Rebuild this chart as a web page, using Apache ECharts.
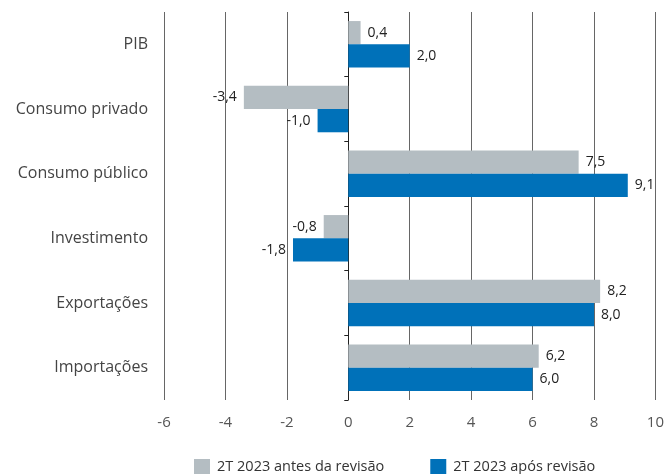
<!DOCTYPE html>
<html><head><meta charset="utf-8">
<script src="https://cdn.jsdelivr.net/npm/echarts@6/dist/echarts.min.js"></script>
<style>html,body{margin:0;padding:0;background:#fff}#c{width:667px;height:474px}</style>
</head><body><div id="c"></div>
<script>
const categories = ['PIB','Consumo privado','Consumo público','Investimento','Exportações','Importações'];
const antes = [0.4, -3.4, 7.5, -0.8, 8.2, 6.2];
const apos = [2.0, -1.0, 9.1, -1.8, 8.0, 6.0];
const seriesNames = ['2T 2023 antes da revisão','2T 2023 após revisão'];
const colors = ['#b4bdc2','#0071b9'];
const FONT = 'Open Sans';

function mk(vals){
  return vals.map(v => ({value:v, label:{position: v<0 ? 'left':'right'}}));
}
const lbl = {show:true, distance:7, fontSize:14, color:'#222', fontFamily:FONT,
  formatter: p => p.value.toFixed(1).replace('.', ',')};

const chart = echarts.init(document.getElementById('c'));
chart.setOption({
  animation:false,
  grid:{left:164, right:9, top:12, bottom:74},
  legend:{left:194, top:459, padding:0, itemWidth:16, itemHeight:16, itemGap:46,
    icon:'rect', textStyle:{fontSize:14.5, color:'#333', fontFamily:FONT, padding:[0,0,0,2]},
    data:seriesNames},
  xAxis:{type:'value', min:-6, max:10, interval:2,
    axisLine:{show:false}, axisTick:{show:false},
    axisLabel:{fontSize:15, color:'#555', fontFamily:FONT, margin:15},
    splitLine:{show:true, lineStyle:{color:'#666', width:1}}},
  yAxis:[
    {type:'category', data:categories, inverse:true,
     axisLine:{show:false, onZero:false}, axisTick:{show:false},
     axisLabel:{fontSize:16, color:'#444', fontFamily:FONT, margin:16}},
    {type:'category', data:categories, inverse:true,
     axisLine:{show:true, onZero:true, onZeroAxisIndex:0, lineStyle:{color:'#222'}},
     axisTick:{show:true, inside:true, length:4, lineStyle:{color:'#222'}},
     axisLabel:{show:false}}
  ],
  series:[
    {name:seriesNames[0], type:'bar', data:mk(antes), itemStyle:{color:colors[0]},
     barGap:'0%', barCategoryGap:'28%', label:lbl, yAxisIndex:0},
    {name:seriesNames[1], type:'bar', data:mk(apos), itemStyle:{color:colors[1]},
     barGap:'0%', barCategoryGap:'28%', label:lbl, yAxisIndex:0}
  ]
});
</script></body></html>
